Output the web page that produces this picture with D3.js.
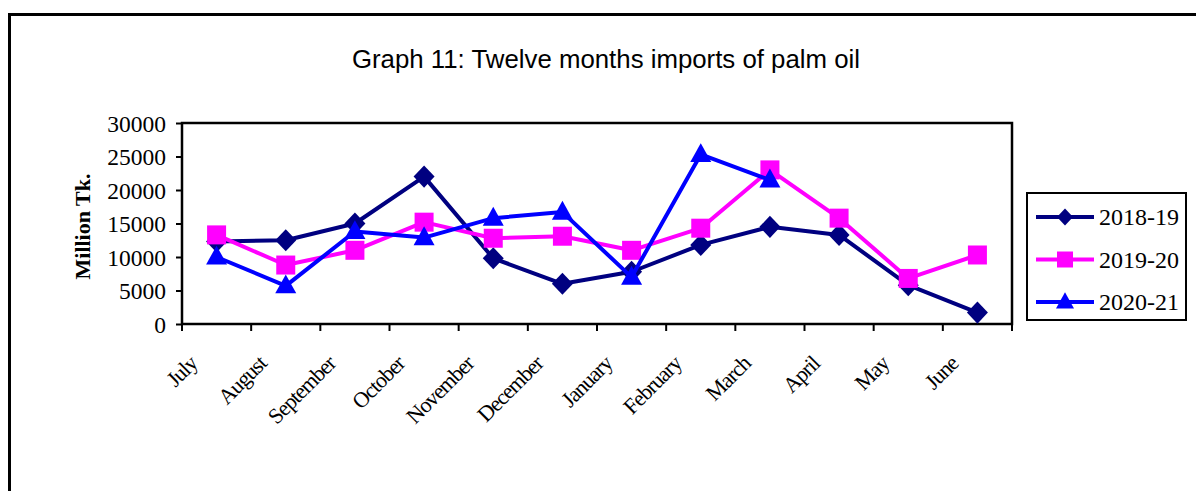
<!DOCTYPE html>
<html>
<head>
<meta charset="utf-8">
<script src="https://cdn.jsdelivr.net/npm/d3@7"></script>
<style>
    body { margin: 0; background: #fff; }
    text { font-family: "Liberation Serif", "Times New Roman", serif; fill: #000; }
</style>
</head>
<body>
<div id="chart"></div>
<script>
const months = ['July', 'August', 'September', 'October', 'November', 'December',
    'January', 'February', 'March', 'April', 'May', 'June'];
const seriesNames = ['2018-19', '2019-20', '2020-21'];
const values1819 = [12300, 12500, 15000, 22000, 9800, 6000, 7800, 11800, 14500, 13300, 5800, 1700];
const values1920 = [13300, 8800, 11000, 15200, 12800, 13100, 11000, 14300, 23000, 15800, 6800, 10300];
const values2021 = [10000, 5700, 13800, 12900, 15800, 16700, 7000, 25300, 21500];
const yTicks = [0, 5000, 10000, 15000, 20000, 25000, 30000];
const colors = ['#000080', '#ff00ff', '#0000ff'];
const shapes = ['diamond', 'square', 'triangle'];

const serif = '"Liberation Serif", "Times New Roman", serif';
const svgWidth = 1196;
const svgHeight = 491;
const plot = { left: 182, right: 1012, top: 123, bottom: 324 };

const svg = d3.select('#chart')
    .append('svg')
    .attr('width', svgWidth)
    .attr('height', svgHeight);

// outer frame
svg.append('rect')
    .attr('x', 9.5).attr('y', 14.5)
    .attr('width', 1200).attr('height', 500)
    .attr('fill', 'none').attr('stroke', '#000').attr('stroke-width', 3);

svg.append('text')
    .attr('x', 606).attr('y', 68)
    .attr('text-anchor', 'middle')
    .style('font-family', '"Liberation Sans", Arial, sans-serif')
    .style('font-size', '25.8px')
    .text('Graph 11: Twelve months imports of palm oil');

const x = d3.scaleBand().domain(months).range([plot.left, plot.right]).padding(0);
const y = d3.scaleLinear().domain([0, 30000]).range([plot.bottom, plot.top]);
const cx = m => x(m) + x.bandwidth() / 2;

// y axis
const yAxis = svg.append('g')
    .attr('transform', `translate(${plot.left}, 0)`)
    .call(d3.axisLeft(y).tickValues(yTicks).tickSize(6).tickPadding(10).tickFormat(d3.format('d')));
yAxis.select('.domain').remove();
yAxis.selectAll('line').attr('stroke', '#000').attr('stroke-width', 2);
yAxis.selectAll('text')
    .style('font-family', serif)
    .style('font-size', '23.5px')
    .attr('dy', '0.34em');

svg.append('text')
    .attr('transform', `translate(90, ${(plot.top + plot.bottom) / 2 + 3}) rotate(-90)`)
    .attr('text-anchor', 'middle')
    .style('font-family', serif)
    .style('font-size', '22px')
    .style('font-weight', 'bold')
    .text('Million Tk.');

// x ticks at category boundaries
const boundaries = months.map(m => x(m)).concat([x.range()[1]]);
svg.append('g').selectAll('line')
    .data(boundaries)
    .enter().append('line')
    .attr('x1', d => d).attr('x2', d => d)
    .attr('y1', plot.bottom).attr('y2', plot.bottom + 7)
    .attr('stroke', '#000').attr('stroke-width', 2);

svg.append('g').selectAll('text')
    .data(months)
    .enter().append('text')
    .attr('transform', d => `translate(${cx(d) - 18}, ${plot.bottom + 41}) rotate(-45)`)
    .attr('text-anchor', 'end')
    .style('font-family', serif)
    .style('font-size', '22px')
    .style('letter-spacing', '-1px')
    .text(d => d);

// plot area frame
svg.append('rect')
    .attr('x', plot.left).attr('y', plot.top)
    .attr('width', plot.right - plot.left).attr('height', plot.bottom - plot.top)
    .attr('fill', 'none').attr('stroke', '#000').attr('stroke-width', 2.5);

function markerPath(shape, w) {
    if (shape === 'diamond') {
        const h = w * 1.05;
        return `M0,${-h / 2}L${w / 2},0L0,${h / 2}L${-w / 2},0Z`;
    }
    if (shape === 'square') {
        return `M${-w / 2},${-w / 2}h${w}v${w}h${-w}Z`;
    }
    const h = w * 0.9;
    return `M0,${-h * 0.6}L${w / 2},${h * 0.4}L${-w / 2},${h * 0.4}Z`;
}

const allSeries = [values1819, values1920, values2021];
const line = d3.line().x((d, i) => cx(months[i])).y(d => y(d));

allSeries.forEach((vals, s) => {
    const g = svg.append('g');
    g.append('path')
        .datum(vals)
        .attr('d', line)
        .attr('fill', 'none')
        .attr('stroke', colors[s])
        .attr('stroke-width', 4)
        .attr('stroke-linejoin', 'round');
    g.selectAll('path.mark')
        .data(vals)
        .enter().append('path')
        .attr('class', 'mark')
        .attr('transform', (d, i) => `translate(${cx(months[i])}, ${y(d)})`)
        .attr('d', markerPath(shapes[s], s === 1 ? 19 : 21))
        .attr('fill', colors[s]);
});

// legend
const legend = svg.append('g');
legend.append('rect')
    .attr('x', 1027).attr('y', 193)
    .attr('width', 159).attr('height', 127)
    .attr('fill', '#fff').attr('stroke', '#000').attr('stroke-width', 2);

const entries = legend.selectAll('g.entry')
    .data(seriesNames)
    .enter().append('g')
    .attr('class', 'entry')
    .attr('transform', (d, i) => `translate(0, ${217 + i * 42.5})`);
entries.append('line')
    .attr('x1', 1036).attr('x2', 1094)
    .attr('stroke', (d, i) => colors[i]).attr('stroke-width', 4);
entries.append('path')
    .attr('transform', 'translate(1065, 0)')
    .attr('d', (d, i) => markerPath(shapes[i], i === 2 ? 18 : 16))
    .attr('fill', (d, i) => colors[i]);
entries.append('text')
    .attr('x', 1099).attr('dy', '0.35em')
    .style('font-family', serif)
    .style('font-size', '24px')
    .text(d => d);
</script>
</body>
</html>
